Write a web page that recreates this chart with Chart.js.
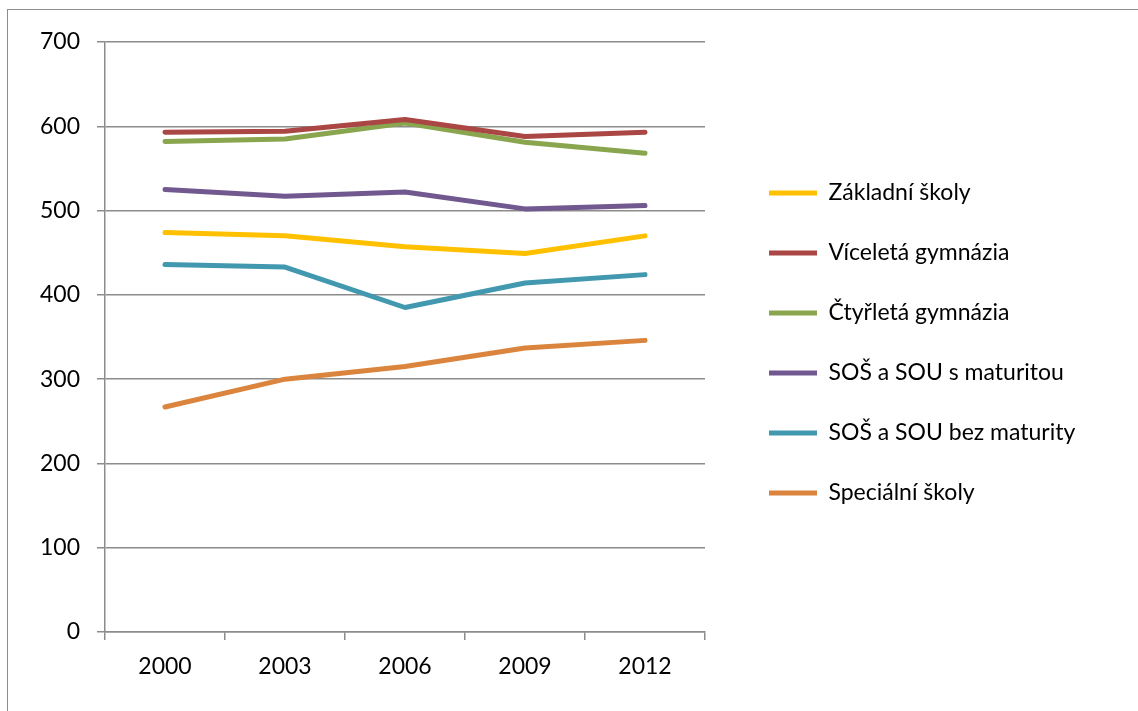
<!DOCTYPE html>
<html>
<head>
<meta charset="utf-8">
<script src="https://cdn.jsdelivr.net/npm/chart.js@4"></script>
<style>
  html, body { margin: 0; padding: 0; background: #fff; overflow: hidden; }
  #frame { position: absolute; left: 7px; top: 9px; width: 1150px; height: 720px; border: 1.5px solid #8c8c8c; }
  #wrap { position: absolute; left: 0; top: 0; width: 1138px; height: 711px; }
</style>
</head>
<body>
<div id="frame"></div>
<div id="wrap"><canvas id="skolyChart"></canvas></div>
<script>
// roky
var roky = ["2000", "2003", "2006", "2009", "2012"];

// hodnoty jednotlivých typů škol
var zakladniSkoly = [474, 470, 457, 449, 470];
var viceletaGymnazia = [593, 594, 608, 588, 593];
var ctyrletaGymnazia = [582, 585, 604, 581, 568];
var sosSMaturitou = [525, 517, 522, 502, 506];
var sosBezMaturity = [436, 433, 385, 414, 424];
var specialniSkoly = [267, 300, 315, 337, 346];

var nazvy = [
  "Základní školy",
  "Víceletá gymnázia",
  "Čtyřletá gymnázia",
  "SOŠ a SOU s maturitou",
  "SOŠ a SOU bez maturity",
  "Speciální školy",
];
var barvy = ["#FFC000", "#AA4643", "#89A54E", "#71588F", "#4198AF", "#DB843D"];
var hodnoty = [zakladniSkoly, viceletaGymnazia, ctyrletaGymnazia, sosSMaturitou, sosBezMaturity, specialniSkoly];

var FONT = "Lato";
var FONT_SIZE = 23;
var LEGEND_PAD = 60 - FONT_SIZE; // rozestup položek legendy 60 px

Chart.defaults.font.family = FONT;
Chart.defaults.font.size = FONT_SIZE;
Chart.defaults.color = "#000";

// legenda vpravo od grafu, odsazená o mezeru
var legendShift = {
  id: "legendShift",
  afterLayout: function (chart) {
    var lg = chart.legend;
    var area = chart.chartArea;
    lg.left = area.right + 64 - LEGEND_PAD;
    lg.right = chart.width;
    lg.top = area.top + 6;
    lg.bottom = area.bottom + 6;
  },
};

var skolyConfig = {
  type: "line",
  data: {
    labels: roky,
    datasets: hodnoty.map(function (data, i) {
      return {
        label: nazvy[i],
        data: data,
        borderColor: barvy[i],
        backgroundColor: barvy[i],
        borderWidth: 5,
        borderCapStyle: "round",
        borderJoinStyle: "round",
        pointRadius: 0,
        tension: 0,
        fill: false,
      };
    }),
  },
  options: {
    responsive: true,
    maintainAspectRatio: false,
    animation: false,
    layout: {
      padding: { left: 0, top: 42, right: 233, bottom: 0 },
    },
    plugins: {
      legend: {
        position: "right",
        align: "center",
        maxWidth: 200,
        labels: {
          usePointStyle: true,
          pointStyle: "line",
          pointStyleWidth: 48,
          padding: LEGEND_PAD,
          color: "#000",
        },
      },
      tooltip: { enabled: false },
    },
    scales: {
      x: {
        offset: true,
        grid: {
          offset: true,
          drawOnChartArea: false,
          drawTicks: true,
          tickLength: 8,
          color: "#8c8c8c",
          lineWidth: 1.5,
        },
        border: { color: "#8c8c8c", width: 1.5 },
        ticks: { padding: 13, maxRotation: 0 },
        afterFit: function (scale) {
          scale.height = 711 - 632;
        },
      },
      y: {
        min: 0,
        max: 700,
        ticks: { stepSize: 100, padding: 17 },
        grid: {
          color: "#8c8c8c",
          lineWidth: 1.5,
          tickLength: 8,
        },
        border: { color: "#8c8c8c", width: 1.5 },
        afterFit: function (scale) {
          scale.width = 105;
        },
      },
    },
  },
  plugins: [legendShift],
};

var skolyChart = new Chart(document.getElementById("skolyChart"), skolyConfig);
</script>
</body>
</html>
